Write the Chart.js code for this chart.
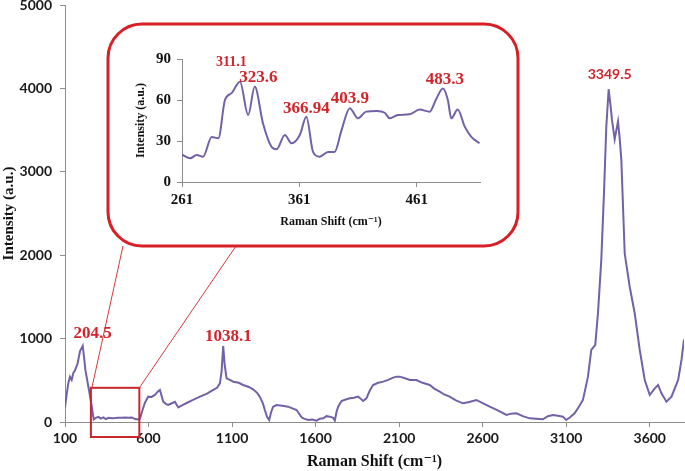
<!DOCTYPE html>
<html>
<head>
<meta charset="utf-8">
<script src="https://cdn.jsdelivr.net/npm/chart.js@4.4.1/dist/chart.umd.min.js"></script>
<style>
  html, body { margin: 0; padding: 0; background: #fff; }
  #wrap { position: relative; width: 685px; height: 471px; }
  #main { position: absolute; left: 0; top: 0; }
  #inset { position: absolute; left: 120px; top: 35px; }
</style>
</head>
<body>
<div id="wrap">
  <canvas id="main" width="685" height="471"></canvas>
  <canvas id="inset" width="380" height="200"></canvas>
</div>
<script>
// ---- Main spectrum data ----
const ramanShift = [100,110,120,130,140,150,160,175,190,206,215,222,240,255,265,272,285,300,315,330,345,360,380,400,420,440,460,480,500,520,540,549,565,578,598,618,638,658,668,680,688,705,718,740,758,770,778,800,828,860,908,950,987,1010,1027,1037,1047,1055,1067,1087,1107,1140,1166,1200,1226,1250,1266,1285,1296,1310,1322,1334,1346,1366,1400,1436,1465,1486,1516,1530,1556,1580,1606,1625,1646,1665,1685,1705,1715,1725,1735,1755,1780,1805,1830,1854,1870,1884,1904,1925,1944,1975,2004,2035,2064,2084,2104,2135,2164,2203,2240,2283,2310,2343,2370,2402,2440,2482,2520,2562,2600,2642,2690,2742,2770,2802,2840,2881,2920,2961,2990,3021,3050,3080,3100,3125,3150,3175,3200,3215,3230,3250,3274,3290,3310,3326,3340,3354,3365,3374,3390,3410,3420,3430,3450,3480,3510,3540,3570,3600,3630,3650,3670,3700,3730,3770,3790,3805];
const intensity  = [168,330,468,543,504,588,620,700,850,912,760,624,423,250,120,30,50,62,40,55,35,50,45,48,52,50,55,50,55,35,30,44,150,228,304,300,324,370,384,300,243,215,204,225,243,200,176,200,228,260,304,340,384,410,464,600,912,700,524,504,483,470,444,420,392,350,304,220,144,60,24,120,184,204,195,184,160,144,56,40,24,30,16,40,44,70,64,50,16,120,184,252,270,284,290,304,280,252,284,380,444,470,484,505,532,544,544,525,504,504,470,444,400,364,330,304,260,224,240,264,225,184,140,84,100,104,70,44,40,32,70,84,75,64,24,60,104,180,264,400,544,864,924,1304,1944,2744,3543,3990,3800,3622,3390,3602,3400,3142,2023,1622,1304,864,504,324,404,444,344,243,304,504,744,990];
const mainXTicks = [100,600,1100,1600,2100,2600,3100,3600];
const mainYTicks = [0,1000,2000,3000,4000,5000];
const mainPeaks = [
  {text: '204.5',  x: 265,  y: 1060, sans: false},
  {text: '1038.1', x: 1078, y: 1025, sans: false},
  {text: '3349.5', x: 3360, y: 4165, sans: true}
];

// ---- Inset (zoomed 261-515 cm-1) data ----
const insetShift = [261,268,273.5,279,286.3,292,297.6,303.3,310.4,317.4,323,330,337.3,341.6,348.7,354.4,361.4,367,372.7,378.4,385.5,391,397,404,411,418,427,433.8,438,445,455,463.6,472,477.8,483.4,487.6,490.5,496,502,507.6,514.6];
const insetIntensity = [20,17.3,19.8,18.5,33,32,60,65,73.4,49,69.8,43,25.8,24,34.4,28.3,34.4,47.8,22,18.5,22,22,38,54,46.6,51.5,52,50.7,46.6,49,49.5,53,51.4,61,68.5,60,46.6,53,40.5,33,28.3];
const insetXTicks = [261,361,461];
const insetYTicks = [0,30,60,90];
const insetPeaks = [
  {text: '311.1',  x: 303, y: 87.4, size: 14},
  {text: '323.6',  x: 326, y: 76.5, size: 17},
  {text: '366.94', x: 367, y: 53.8, size: 17},
  {text: '403.9',  x: 404, y: 61,   size: 17},
  {text: '483.3',  x: 485, y: 74.6, size: 17}
];
const zoomBox = {x0: 255, x1: 545, y0: -180, y1: 410};

const LINE = '#7361a8';
const RED = '#d3242b';
const AXIS = '#8c8c8c';
const SERIF = '"Liberation Serif", "DejaVu Serif", serif';
const SANS = 'Lato, "Liberation Sans", sans-serif';

function toXY(xs, ys) { return xs.map((x, i) => ({x: x, y: ys[i]})); }
function keepTicks(list) {
  return function(scale) { scale.ticks = list.map(v => ({value: v})); };
}
const plain = v => String(v);

const mainOverlay = {
  id: 'mainOverlay',
  afterDraw(chart) {
    const ctx = chart.ctx;
    const xs = chart.scales.x, ys = chart.scales.y;
    ctx.save();
    // zoom rectangle
    const rx0 = xs.getPixelForValue(zoomBox.x0), rx1 = xs.getPixelForValue(zoomBox.x1);
    const ry0 = ys.getPixelForValue(zoomBox.y1), ry1 = ys.getPixelForValue(zoomBox.y0);
    ctx.strokeStyle = '#c9262c';
    ctx.lineWidth = 2;
    ctx.strokeRect(rx0, ry0, rx1 - rx0, ry1 - ry0);
    // connecting lines
    ctx.lineWidth = 1;
    ctx.strokeStyle = '#d33a3f';
    ctx.beginPath();
    ctx.moveTo(rx0 + 1, ry0); ctx.lineTo(123, 246);
    ctx.moveTo(rx1, ry0); ctx.lineTo(236, 246);
    ctx.stroke();
    // rounded inset frame
    ctx.lineWidth = 3;
    ctx.strokeStyle = '#d81f26';
    ctx.fillStyle = '#ffffff';
    const bx = 108, by = 24, bw = 410, bh = 222, r = 34;
    ctx.beginPath();
    ctx.roundRect(bx, by, bw, bh, r);
    ctx.fill();
    ctx.stroke();
    // peak labels
    ctx.fillStyle = RED;
    ctx.textAlign = 'center';
    ctx.textBaseline = 'middle';
    mainPeaks.forEach(p => {
      ctx.font = p.sans ? 'bold 14px ' + SANS : 'bold 17px ' + SERIF;
      ctx.fillText(p.text, xs.getPixelForValue(p.x), ys.getPixelForValue(p.y));
    });
    ctx.restore();
  }
};

new Chart(document.getElementById('main'), {
  type: 'line',
  data: {
    datasets: [{
      data: toXY(ramanShift, intensity),
      borderColor: LINE,
      borderWidth: 2,
      pointRadius: 0,
      tension: 0,
      fill: false
    }]
  },
  options: {
    responsive: false,
    animation: false,
    layout: {padding: {top: 5, right: 1, left: 0, bottom: 0}},
    plugins: {legend: {display: false}, tooltip: {enabled: false}},
    scales: {
      x: {
        type: 'linear',
        min: 100, max: 3805,
        afterBuildTicks: keepTicks(mainXTicks),
        afterFit(s) { s.height = 49; s.paddingLeft = 0; s.paddingRight = 0; },
        grid: {drawOnChartArea: false, drawTicks: true, tickLength: 5, color: AXIS},
        border: {color: AXIS, width: 1},
        ticks: {color: '#1a1a1a', font: {family: SANS, weight: 'bold', size: 14}, padding: 3, maxRotation: 0, callback: plain},
        title: {display: true, text: 'Raman Shift (cm\u207B\u00B9)', color: '#111', font: {family: SERIF, weight: 'bold', size: 16}, padding: {top: 0, bottom: 0}}
      },
      y: {
        min: 0, max: 5000,
        afterBuildTicks: keepTicks(mainYTicks),
        afterFit(s) { s.width = 65; s.paddingTop = 0; s.paddingBottom = 0; },
        grid: {drawOnChartArea: false, drawTicks: true, tickLength: 5, color: AXIS},
        border: {color: AXIS, width: 1},
        ticks: {color: '#1a1a1a', font: {family: SANS, weight: 'bold', size: 14}, padding: 8, callback: plain},
        title: {display: true, text: 'Intensity (a.u.)', color: '#111', font: {family: SERIF, weight: 'bold', size: 15}, padding: {top: 0, bottom: 0}}
      }
    }
  },
  plugins: [mainOverlay]
});

const insetOverlay = {
  id: 'insetOverlay',
  afterDraw(chart) {
    const ctx = chart.ctx;
    const xs = chart.scales.x, ys = chart.scales.y;
    ctx.save();
    ctx.fillStyle = RED;
    ctx.textAlign = 'center';
    ctx.textBaseline = 'middle';
    insetPeaks.forEach(p => {
      ctx.font = 'bold ' + p.size + 'px ' + SERIF;
      ctx.fillText(p.text, xs.getPixelForValue(p.x), ys.getPixelForValue(p.y));
    });
    ctx.restore();
  }
};

new Chart(document.getElementById('inset'), {
  type: 'line',
  data: {
    datasets: [{
      data: toXY(insetShift, insetIntensity),
      borderColor: LINE,
      borderWidth: 2,
      pointRadius: 0,
      tension: 0.4,
      cubicInterpolationMode: 'monotone',
      fill: false
    }]
  },
  options: {
    responsive: false,
    animation: false,
    layout: {padding: {top: 24, right: 20, left: 14, bottom: 6}},
    plugins: {legend: {display: false}, tooltip: {enabled: false}},
    scales: {
      x: {
        type: 'linear',
        min: 261, max: 515,
        afterBuildTicks: keepTicks(insetXTicks),
        afterFit(s) { s.height = 47; s.paddingLeft = 0; s.paddingRight = 0; },
        grid: {drawOnChartArea: false, drawTicks: true, tickLength: 5, color: AXIS},
        border: {color: AXIS, width: 1},
        ticks: {color: '#111', font: {family: SERIF, weight: 'bold', size: 15}, padding: 4, maxRotation: 0, callback: plain},
        title: {display: true, text: 'Raman Shift (cm\u207B\u00B9)', color: '#111', font: {family: SERIF, weight: 'bold', size: 12}, padding: {top: 0, bottom: 0}}
      },
      y: {
        min: 0, max: 90,
        afterBuildTicks: keepTicks(insetYTicks),
        afterFit(s) { s.width = 48; s.paddingTop = 0; s.paddingBottom = 0; },
        grid: {drawOnChartArea: false, drawTicks: true, tickLength: 5, color: AXIS},
        border: {color: AXIS, width: 1},
        ticks: {color: '#111', font: {family: SERIF, weight: 'bold', size: 15}, padding: 6, callback: plain},
        title: {display: true, text: 'Intensity (a.u.)', color: '#111', font: {family: SERIF, weight: 'bold', size: 12}, padding: {top: 0, bottom: 0}}
      }
    }
  },
  plugins: [insetOverlay]
});
</script>
</body>
</html>
